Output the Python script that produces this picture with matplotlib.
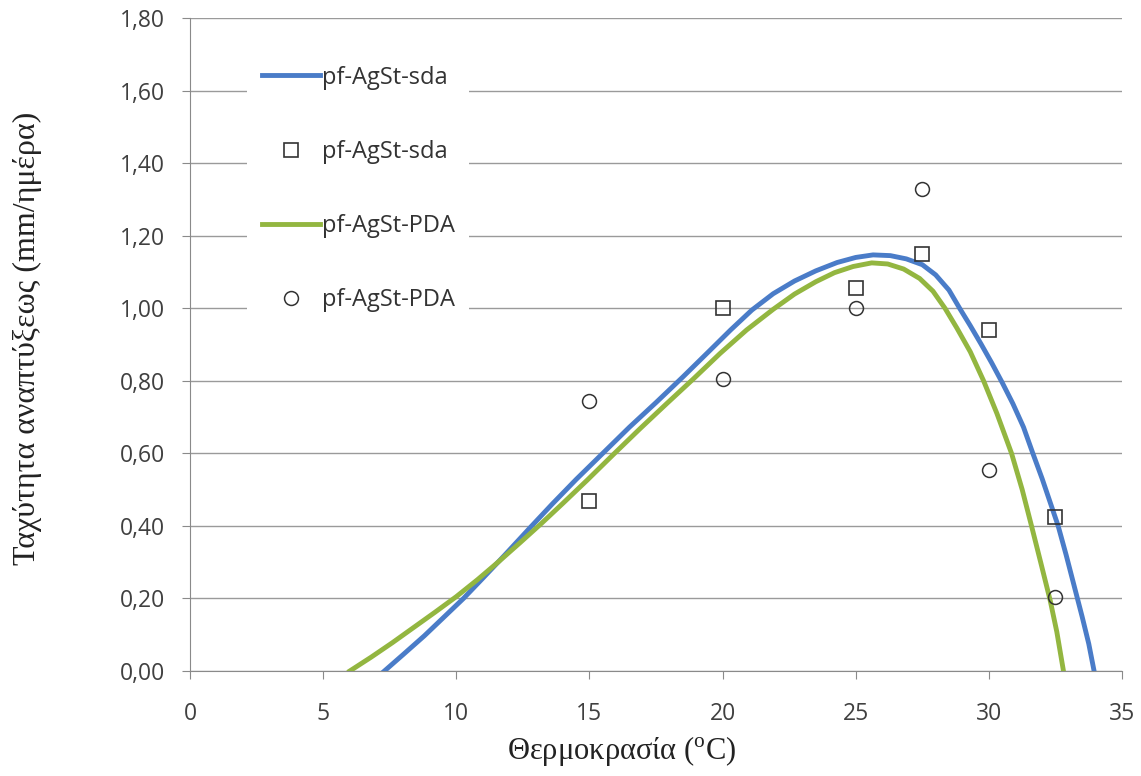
import matplotlib.pyplot as plt
from matplotlib.ticker import FuncFormatter, MultipleLocator

plt.rcParams['mathtext.fontset'] = 'custom'
plt.rcParams['mathtext.rm'] = 'Liberation Serif'

# measured points (temperature, growth rate)
temps = [15, 20, 25, 27.5, 30, 32.5]
sda_obs = [0.47, 1.00, 1.055, 1.15, 0.94, 0.425]
pda_obs = [0.745, 0.805, 1.00, 1.33, 0.555, 0.205]

# fitted curves
sda_fit_x = [7.3, 8.0, 8.8, 9.5, 10.27, 11.0, 11.8, 12.77, 13.6, 14.5, 15.5, 16.5,
             17.5, 18.5, 19.5, 20.3, 21.1, 21.9, 22.7, 23.5, 24.3, 25.0, 25.65,
             26.3, 26.9, 27.5, 28.0, 28.5, 28.9, 29.3, 29.7, 30.1, 30.5, 30.9,
             31.3, 31.65, 32.0, 32.3, 32.6, 32.9, 33.2, 33.5, 33.75, 33.95]
sda_fit_y = [0.0, 0.045, 0.097, 0.146, 0.20, 0.256, 0.318, 0.395, 0.46, 0.528, 0.60, 0.672,
             0.74, 0.81, 0.882, 0.94, 0.995, 1.04, 1.075, 1.103, 1.126, 1.14, 1.147,
             1.145, 1.136, 1.12, 1.092, 1.05, 1.00, 0.952, 0.902, 0.85, 0.795, 0.737,
             0.672, 0.60, 0.53, 0.465, 0.40, 0.32, 0.235, 0.15, 0.075, 0.0]
pda_fit_x = [6.0, 6.8, 7.6, 8.4, 9.2, 10.0, 10.8, 11.6, 12.4, 13.2, 14.0, 14.9, 15.9,
             16.9, 17.9, 18.9, 19.9, 20.9, 21.9, 22.7, 23.5, 24.2, 24.9, 25.6, 26.2,
             26.8, 27.4, 27.9, 28.35, 28.8, 29.3, 29.8, 30.3, 30.85, 31.25, 31.6,
             31.95, 32.3, 32.55, 32.8]
pda_fit_y = [0.0, 0.038, 0.078, 0.12, 0.162, 0.205, 0.252, 0.302, 0.354, 0.407, 0.462, 0.525,
             0.597, 0.668, 0.737, 0.805, 0.875, 0.94, 0.997, 1.039, 1.073, 1.098, 1.115, 1.125,
             1.122, 1.108, 1.082, 1.047, 1.00, 0.945, 0.88, 0.80, 0.71, 0.60, 0.50, 0.40,
             0.298, 0.195, 0.108, 0.0]

fig = plt.figure(figsize=(11.41, 7.76), dpi=100)
ax = fig.add_axes([0.1665, 0.1353, 0.8169, 0.8415])

ax.plot(sda_fit_x, sda_fit_y, color='#4a7cc8', lw=3.5, solid_joinstyle='round',
        label='pf-AgSt-sda', zorder=3)
ax.plot(temps, sda_obs, ls='none', marker='s', ms=10, mfc='none', mec='#333333',
        mew=1.2, label='pf-AgSt-sda', zorder=4)
ax.plot(pda_fit_x, pda_fit_y, color='#93b640', lw=3.5, solid_joinstyle='round',
        label='pf-AgSt-PDA', zorder=3)
ax.plot(temps, pda_obs, ls='none', marker='o', ms=10, mfc='none', mec='#333333',
        mew=1.1, label='pf-AgSt-PDA', zorder=4)

ax.set_xlim(0, 35)
ax.set_ylim(0, 1.8)
ax.xaxis.set_major_locator(MultipleLocator(5))
ax.yaxis.set_major_locator(MultipleLocator(0.2))
ax.yaxis.set_major_formatter(FuncFormatter(lambda v, p: f'{v:.2f}'.replace('.', ',')))

ax.grid(axis='y', color='#9a9a9a', lw=1)
ax.set_axisbelow(True)
for s in ['top', 'right']:
    ax.spines[s].set_visible(False)
for s in ['left', 'bottom']:
    ax.spines[s].set_color('#8a8a8a')
ax.tick_params(colors='#8a8a8a', length=6, labelcolor='#404040', labelsize=16.5)
for lab in ax.get_xticklabels() + ax.get_yticklabels():
    lab.set_family('Open Sans')
ax.tick_params(axis='x', pad=16)
ax.tick_params(axis='y', pad=12)

ax.set_xlabel('Θερμοκρασία ($^{\\mathrm{o}}$C)', family='Liberation Serif', fontsize=22,
              color='#222222')
ax.set_ylabel('Ταχύτητα αναπτύξεως (mm/ημέρα)', family='Liberation Serif', fontsize=23,
              color='#222222')
ax.xaxis.set_label_coords(0.4635, -0.097)
ax.yaxis.set_label_coords(-0.159, 0.51)

leg = ax.legend(loc='upper left', bbox_to_anchor=(0.049, 0.967), frameon=True,
                facecolor='white', edgecolor='none', framealpha=1,
                prop={'family': 'Open Sans', 'size': 17}, labelspacing=2.13,
                handlelength=2.46, handletextpad=0.1, borderpad=0.6)
for t in leg.get_texts():
    t.set_color('#333333')

fig.savefig('out.png', dpi=100)
